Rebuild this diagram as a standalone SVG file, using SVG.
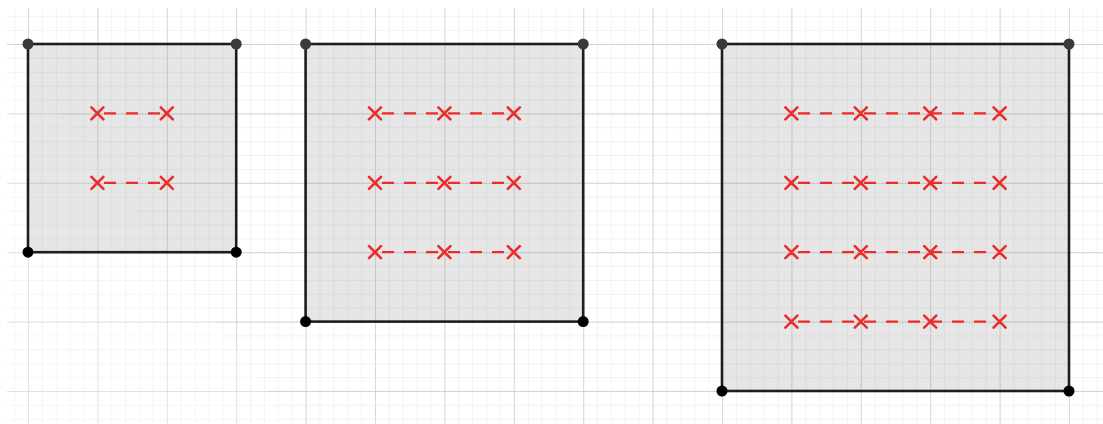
<svg xmlns="http://www.w3.org/2000/svg" width="1103" height="424" viewBox="0 0 1103 424">
<defs>
<pattern id="minor" x="28" y="44" width="13.88" height="13.88" patternUnits="userSpaceOnUse">
<path d="M0 0H13.88M0 0V13.88" fill="none" stroke="#e6e6e6" stroke-width="1"/>
</pattern>
<pattern id="major" x="28" y="44" width="69.4" height="69.4" patternUnits="userSpaceOnUse">
<path d="M0 0H69.4M0 0V69.4" fill="none" stroke="#c9c9c9" stroke-width="1.3"/>
</pattern>
</defs>
<style>
.sq{fill:#8c8c8c;fill-opacity:0.22;stroke:#1e1e1e;stroke-width:2.6}
.dt{fill:#3a3a3a}
.db{fill:#000}
.x{stroke:#ec2b2b;stroke-width:2.6;stroke-linecap:round;fill:none}
.dl{stroke:#ec2b2b;stroke-width:2.2;stroke-dasharray:12 10;fill:none}
</style>
<rect width="1103" height="424" fill="#ffffff"/>
<g id="grid">
<rect x="7" y="8" width="1096" height="416" fill="url(#minor)"/>
<rect x="7" y="8" width="1096" height="416" fill="url(#major)"/>
<polygon points="0,70 70,120 290,424 0,424" fill="#ffffff" fill-opacity="0.3"/>
</g>
<g id="square1">
<rect class="sq" x="28" y="44" width="208.2" height="208.2"/>
</g>
<g id="square2">
<rect class="sq" x="305.6" y="44" width="277.6" height="277.6"/>
</g>
<g id="square3">
<rect class="sq" x="722" y="44" width="347" height="347"/>
</g>
<g id="connectors">
<path class="dl" d="M104 113.4H160M104 182.8H160"/>
<path class="dl" d="M382 113.4H508M382 182.8H508M382 252.2H508"/>
<path class="dl" d="M798 113.4H994M798 182.8H994M798 252.2H994M798 321.6H994"/>
</g>
<g id="crosses">
<path class="x" id="c1" d="M91.4 107.4l12 12m0 -12l-12 12M160.8 107.4l12 12m0 -12l-12 12M91.4 176.8l12 12m0 -12l-12 12M160.8 176.8l12 12m0 -12l-12 12"/>
<path class="x" id="c2" d="M369 107.4l12 12m0-12l-12 12M438.4 107.4l12 12m0-12l-12 12M507.8 107.4l12 12m0-12l-12 12M369 176.8l12 12m0-12l-12 12M438.4 176.8l12 12m0-12l-12 12M507.8 176.8l12 12m0-12l-12 12M369 246.2l12 12m0-12l-12 12M438.4 246.2l12 12m0-12l-12 12M507.8 246.2l12 12m0-12l-12 12"/>
<path class="x" id="c3" d="M785.4 107.4l12 12m0-12l-12 12M854.8 107.4l12 12m0-12l-12 12M924.2 107.4l12 12m0-12l-12 12M993.6 107.4l12 12m0-12l-12 12M785.4 176.8l12 12m0-12l-12 12M854.8 176.8l12 12m0-12l-12 12M924.2 176.8l12 12m0-12l-12 12M993.6 176.8l12 12m0-12l-12 12M785.4 246.2l12 12m0-12l-12 12M854.8 246.2l12 12m0-12l-12 12M924.2 246.2l12 12m0-12l-12 12M993.6 246.2l12 12m0-12l-12 12M785.4 315.6l12 12m0-12l-12 12M854.8 315.6l12 12m0-12l-12 12M924.2 315.6l12 12m0-12l-12 12M993.6 315.6l12 12m0-12l-12 12"/>
</g>
<g id="points">
<circle class="dt" cx="28" cy="44" r="5.5"/><circle class="dt" cx="236.2" cy="44" r="5.5"/>
<circle class="db" cx="28" cy="252.2" r="5.5"/><circle class="db" cx="236.2" cy="252.2" r="5.5"/>
<circle class="dt" cx="305.6" cy="44" r="5.5"/><circle class="dt" cx="583.2" cy="44" r="5.5"/>
<circle class="db" cx="305.6" cy="321.6" r="5.5"/><circle class="db" cx="583.2" cy="321.6" r="5.5"/>
<circle class="dt" cx="722" cy="44" r="5.5"/><circle class="dt" cx="1069" cy="44" r="5.5"/>
<circle class="db" cx="722" cy="391" r="5.5"/><circle class="db" cx="1069" cy="391" r="5.5"/>
</g>
</svg>
